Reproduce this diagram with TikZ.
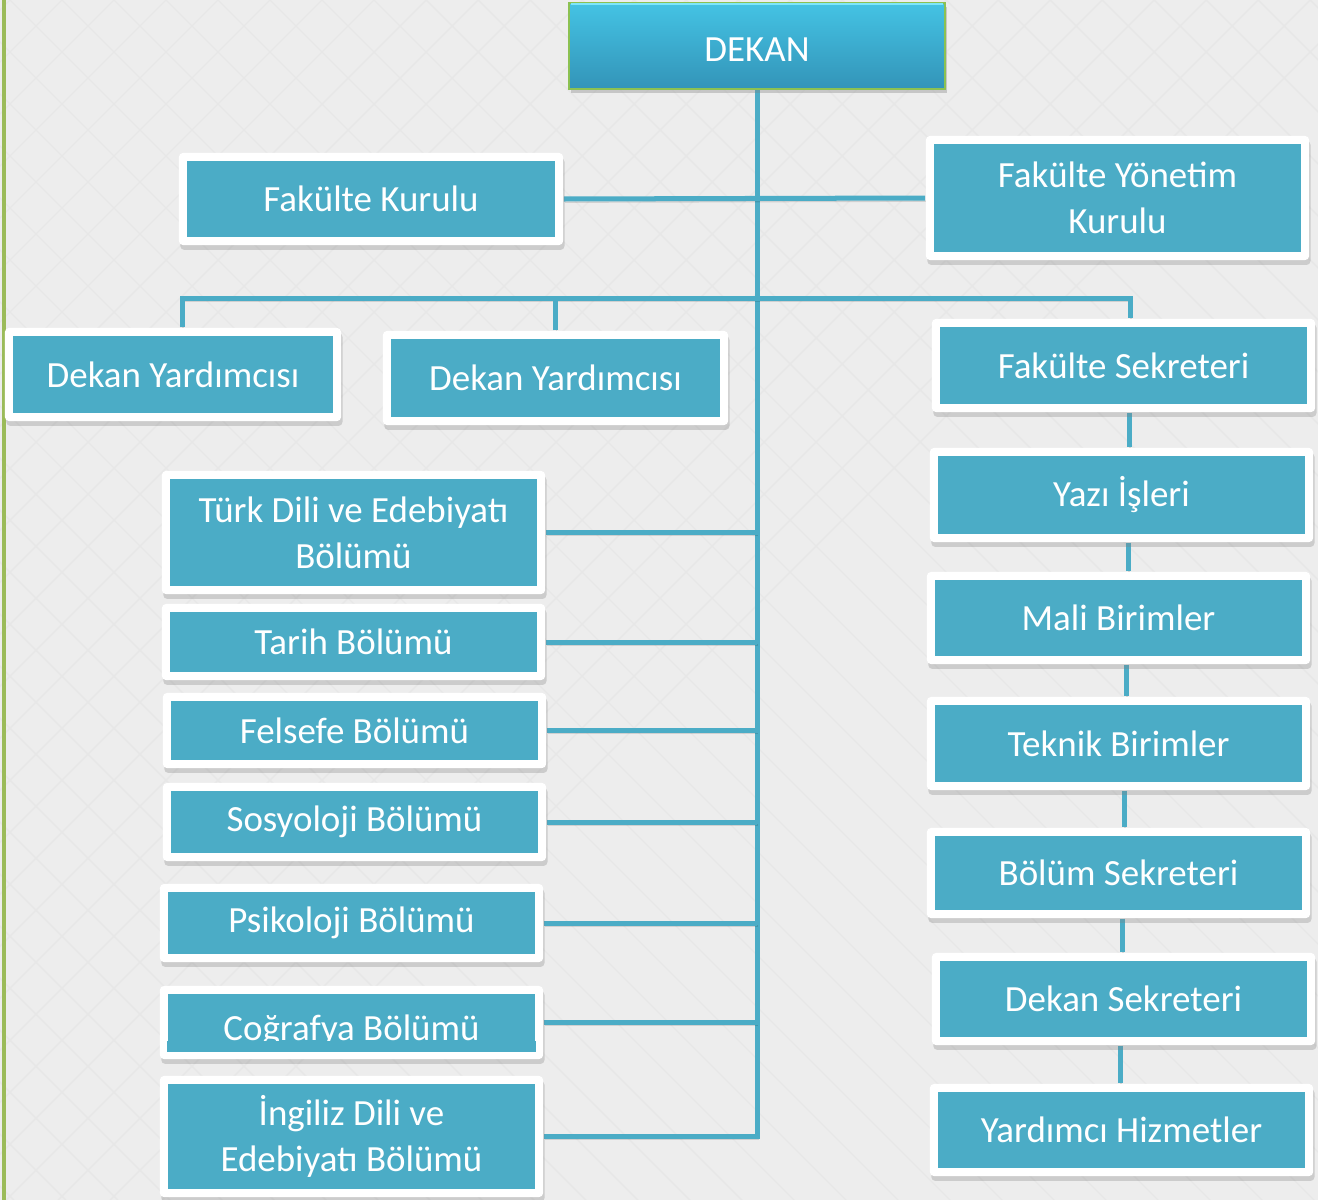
\documentclass[tikz,border=0pt]{standalone}
\usepackage{fontspec}
\setmainfont{Carlito}
\usetikzlibrary{shadows}
\definecolor{boxblue}{HTML}{4BACC6}
\definecolor{linecol}{HTML}{4BACC6}
\definecolor{bggray}{HTML}{EDEDED}
\definecolor{patgray}{HTML}{E7E7E7}
\definecolor{sidegreen}{HTML}{9BBB59}
\definecolor{dekantop}{HTML}{44C3E4}
\definecolor{dekanbot}{HTML}{3394B8}
\definecolor{dekanhi}{HTML}{7DE6FA}
\definecolor{dekanborder}{HTML}{8CC152}
\pgfdeclarelayer{bg}
\pgfdeclarelayer{lines}
\pgfsetlayers{bg,lines,main}
\begin{document}
\begin{tikzpicture}[x=0.01cm,y=-0.01cm,
  txt/.style={text=white, font=\fontsize{10.5}{13.1}\selectfont, align=center},
  orgbox/.style={txt, fill=white, rounded corners=0.04cm, inner sep=0pt,
    drop shadow={shadow xshift=0.4pt, shadow yshift=-1.4pt, opacity=0.3},
    path picture={\fill[boxblue, sharp corners]
      ([xshift=0.08cm,yshift=0.08cm]path picture bounding box.south west) rectangle
      ([xshift=-0.08cm,yshift=-0.08cm]path picture bounding box.north east);}},
  sz/.style 2 args={minimum width=#1, minimum height=#2},
  conn/.style={draw=linecol, line width=0.05cm, line join=miter,
    preaction={draw=black, opacity=0.12, transform canvas={shift={(0.3pt,-0.9pt)}}}}
]
\useasboundingbox (0,0) rectangle (1318,1200);
% background
\begin{pgfonlayer}{bg}
\fill[bggray] (0,0) rectangle (1318,1200);
\begin{scope}
\clip (0,0) rectangle (1318,1200);
\foreach \k in {-24,...,26} {
  \draw[patgray, line width=0.4pt] (\k*52+10,0) -- ++(1200,1200);
  \draw[patgray, line width=0.4pt] (\k*52+10,0) -- ++(-1200,1200);
}
\end{scope}
\fill[sidegreen] (2,0) rectangle (6,1200);
\end{pgfonlayer}

% top
\node[txt, draw=dekanborder, line width=0.025cm, top color=dekantop, bottom color=dekanbot,
  minimum width=3.76cm, minimum height=0.86cm, inner sep=0pt, text height=0.3cm, text depth=0pt,
  drop shadow={shadow xshift=0.5pt, shadow yshift=-1.2pt, opacity=0.35}] (dekan) at (757,46) {DEKAN};
\draw[dekanhi, line width=0.02cm] ([xshift=0.03cm,yshift=-0.025cm]dekan.north west) -- ([xshift=-0.03cm,yshift=-0.025cm]dekan.north east);

\node[orgbox, sz={3.84cm}{0.92cm}] (fk) at (371,199) {Fakülte Kurulu};
\node[orgbox, sz={3.83cm}{1.24cm}] (fyk) at (1117.5,198) {Fakülte Yönetim\\Kurulu};
\node[orgbox, sz={3.36cm}{0.93cm}] (dy1) at (173,374.5) {Dekan Yardımcısı};
\node[orgbox, sz={3.45cm}{0.94cm}] (dy2) at (555.5,378) {Dekan Yardımcısı};

% right column
\node[orgbox, sz={3.83cm}{0.93cm}] (fs) at (1123.5,365.5) {Fakülte Sekreteri};
\node[orgbox, sz={3.83cm}{0.94cm}] (yazi) at (1121.5,495) {Yazı İşleri};
\node[orgbox, sz={3.83cm}{0.92cm}] (mali) at (1118.5,618) {Mali Birimler};
\node[orgbox, sz={3.83cm}{0.93cm}] (teknik) at (1118.5,743.5) {Teknik Birimler};
\node[orgbox, sz={3.83cm}{0.90cm}] (bs) at (1118.5,873) {Bölüm Sekreteri};
\node[orgbox, sz={3.83cm}{0.92cm}] (ds) at (1123.5,999) {Dekan Sekreteri};
\node[orgbox, sz={3.83cm}{0.92cm}] (yh) at (1121.5,1130) {Yardımcı Hizmetler};

% left column
\node[orgbox, sz={3.83cm}{1.23cm}] (tde) at (353.5,532.5) {Türk Dili ve Edebiyatı\\Bölümü};
\node[orgbox, sz={3.83cm}{0.76cm}] (tarih) at (353.5,642) {Tarih Bölümü};
\node[orgbox, sz={3.83cm}{0.75cm}] (felsefe) at (354.5,730.5) {Felsefe Bölümü};
\node[orgbox, sz={3.83cm}{0.78cm}] (sosyo) at (354.5,822) {Sosyoloji Bölümü};
\node[orgbox, sz={3.83cm}{0.78cm}] (psiko) at (351.5,923) {Psikoloji Bölümü};
\node[orgbox, sz={3.83cm}{0.73cm}, text height=0.35cm, text depth=0pt] (cog) at (351.5,1022.5) {Coğrafya Bölümü};
\fill[boxblue] ([xshift=0.08cm,yshift=0.08cm]cog.south west) rectangle ([xshift=-0.08cm,yshift=0.19cm]cog.south east);
\node[orgbox, sz={3.83cm}{1.21cm}] (ing) at (351.5,1136.5) {İngiliz Dili ve\\Edebiyatı Bölümü};

\coordinate (busL) at (182,298);
\coordinate (busR) at (1130,298);
\coordinate (v1) at (1129,0);
\coordinate (v2) at (1128,0);
\coordinate (v3) at (1126,0);
\coordinate (v4) at (1124,0);
\coordinate (v5) at (1122,0);
\coordinate (v6) at (1120,0);

\begin{pgfonlayer}{lines}
\draw[conn] (dekan.south) |- (ing.east);
\draw[conn] (fk.east) -- (fyk.west);
\draw[conn] (busL |- dy1.north) -- (busL) -- (busR) -- (busR |- fs.north);
\draw[conn] (dy2.north) -- (dy2.north |- busL);
\foreach \n in {tde,tarih,felsefe,sosyo,psiko,cog}
  \draw[conn] (\n.east) -- (\n.east -| dekan.south);
\draw[conn] (v1 |- fs.south) -- (v1 |- yazi.north);
\draw[conn] (v2 |- yazi.south) -- (v2 |- mali.north);
\draw[conn] (v3 |- mali.south) -- (v3 |- teknik.north);
\draw[conn] (v4 |- teknik.south) -- (v4 |- bs.north);
\draw[conn] (v5 |- bs.south) -- (v5 |- ds.north);
\draw[conn] (v6 |- ds.south) -- (v6 |- yh.north);
\end{pgfonlayer}
\end{tikzpicture}
\end{document}
